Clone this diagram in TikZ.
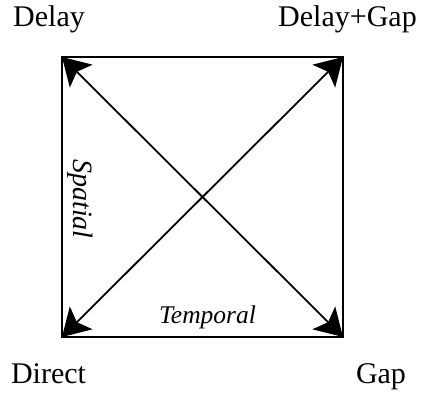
\documentclass[tikz,border=0pt]{standalone}
\usepackage{fontspec}
\setmainfont{Liberation Serif}
\usetikzlibrary{arrows.meta}
\begin{document}
\begin{tikzpicture}[x=1pt,y=1pt,
  lbl/.style={inner sep=0pt,anchor=base,font=\fontsize{30}{30}\selectfont},
  axislbl/.style={inner sep=0pt,font=\fontsize{25.5}{26}\selectfont\itshape},
  diag/.style={line width=1.8pt,{Stealth[length=27pt,width=32pt,inset=6pt]}-{Stealth[length=27pt,width=32pt,inset=6pt]}},
  box/.style={line width=1.8pt}]
\useasboundingbox (0,0) rectangle (430,393);
\coordinate (tl) at (62,336);
\coordinate (tr) at (343,336);
\coordinate (bl) at (62,56);
\coordinate (br) at (343,56);
\draw[box] (bl) rectangle (tr);
\draw[diag] (bl) -- (tr);
\draw[diag] (tl) -- (br);
\node[lbl] (delay) at (49,366) {Delay};
\node[lbl] (delaygap) at (347.5,366) {Delay+Gap};
\node[lbl] (direct) at (48.5,10) {Direct};
\node[lbl] (gap) at (381,10) {Gap};
\node[axislbl,anchor=base] (temporal) at (207.5,70) {Temporal};
\node[axislbl,font=\fontsize{28}{28}\selectfont\itshape,rotate=-90] (spatial) at (80,194) {Spatial};
\end{tikzpicture}
\end{document}
